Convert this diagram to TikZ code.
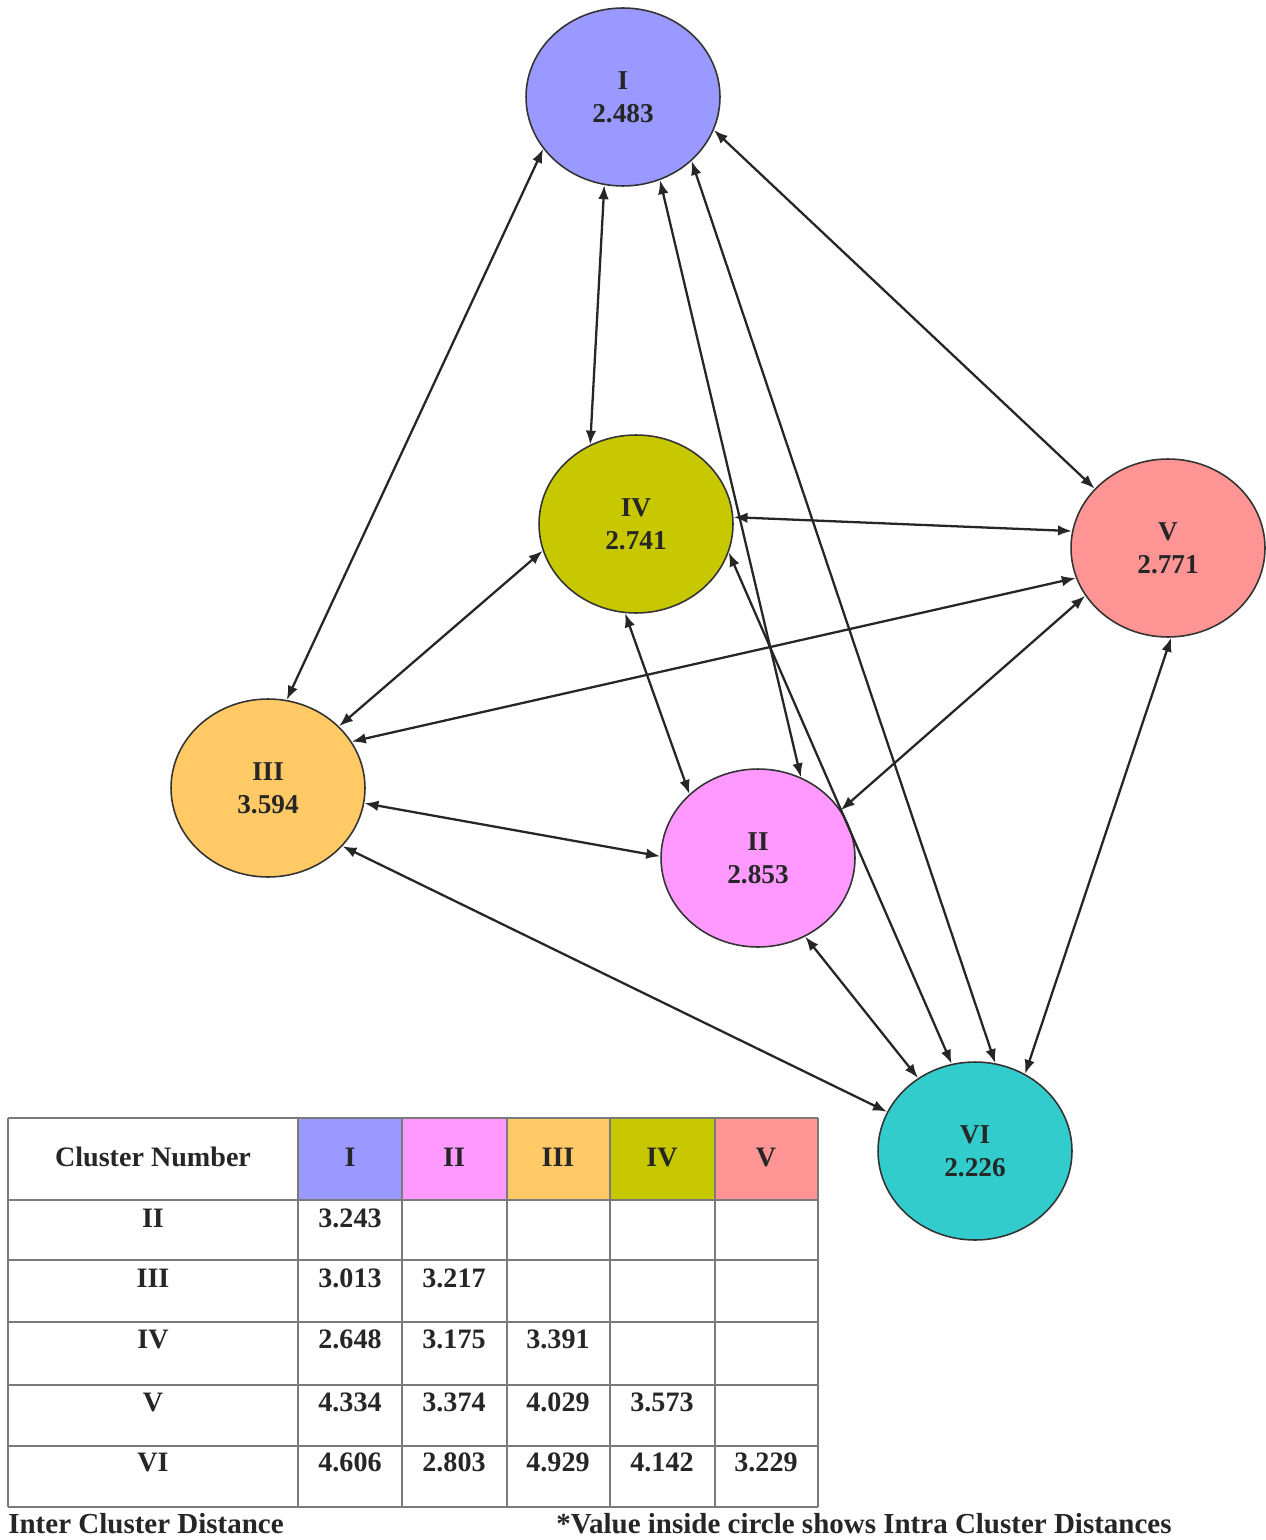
\documentclass[tikz,border=0pt]{standalone}
\usepackage{fontspec}
\setmainfont{Liberation Serif}
\usetikzlibrary{arrows.meta, shapes.geometric}

\definecolor{clI}{HTML}{9999FF}
\definecolor{clII}{HTML}{FF99FF}
\definecolor{clIII}{HTML}{FFC966}
\definecolor{clIV}{HTML}{C8C800}
\definecolor{clV}{HTML}{FF9494}
\definecolor{clVI}{HTML}{33CCCC}
\definecolor{gridgray}{HTML}{7A7A7A}

\begin{document}
\begin{tikzpicture}[x=0.02cm, y=-0.02cm,
    cluster/.style={ellipse, draw=black!80, line width=0.9pt, minimum width=3.88cm,
        minimum height=3.56cm, inner sep=0pt, align=center, text=black!85,
        font=\bfseries\fontsize{15.5}{19}\selectfont},
    link/.style={{Latex[length=8pt,width=6pt]}-{Latex[length=8pt,width=6pt]},
        line width=1.3pt, black!85},
    gridline/.style={gridgray, line width=1.2pt},
    cell/.style={inner sep=0pt, text=black!85, font=\bfseries\fontsize{16}{18}\selectfont},
    note/.style={inner sep=0pt, text=black!85, font=\bfseries\fontsize{16.5}{18}\selectfont}]

    \useasboundingbox (0,0) rectangle (1266,1540);

    % clusters
    \node[cluster, fill=clI]   (I)   at (623,97)   {I\\2.483};
    \node[cluster, fill=clIV]  (IV)  at (636,524)  {IV\\2.741};
    \node[cluster, fill=clV]   (V)   at (1168,548) {V\\2.771};
    \node[cluster, fill=clIII] (III) at (268,788)  {III\\3.594};
    \node[cluster, fill=clII]  (II)  at (758,858)  {II\\2.853};
    \node[cluster, fill=clVI]  (VI)  at (975,1151) {VI\\2.226};

    % inter cluster links
    \foreach \a/\b in {I.-147/III.78, I.-102/IV.120, I.-66/II.62, I.-43/VI.77,
                       I.-20/V.141, IV.-164/III.41, IV.4/V.170, IV.-97/II.137,
                       IV.-17/VI.105, V.-162/III.29, V.-150/II.30, V.-88/VI.57,
                       III.-9/II.179, III.-38/VI.156, II.-59/VI.128}
        \draw[link] (\a) -- (\b);

    % table
    \foreach \xa/\xb/\c in {298/402/clI, 402/507/clII, 507/610/clIII, 610/715/clIV, 715/818/clV}
        \fill[\c] (\xa,1118) rectangle (\xb,1200);

    \foreach \y in {1118,1200,1260,1322,1385,1446,1507}
        \draw[gridline] (8,\y) -- (818,\y);
    \foreach \x in {8,298,402,507,610,715,818}
        \draw[gridline] (\x,1118) -- (\x,1507);

    \node[cell] (hd) at (153,1157) {Cluster Number};
    \foreach \lab/\x in {I/350, II/454, III/558, IV/662, V/766}
        \node[cell] (hd\lab) at (\x,1157) {\lab};

    \foreach \lab/\y in {II/1218, III/1278, IV/1339, V/1402, VI/1462}
        \node[cell] (row\lab) at (153,\y) {\lab};

    \foreach \v/\x/\y [count=\k] in {3.243/350/1218,
            3.013/350/1278, 3.217/454/1278,
            2.648/350/1339, 3.175/454/1339, 3.391/558/1339,
            4.334/350/1402, 3.374/454/1402, 4.029/558/1402, 3.573/662/1402,
            4.606/350/1462, 2.803/454/1462, 4.929/558/1462, 4.142/662/1462, 3.229/766/1462}
        \node[cell] (val\k) at (\x,\y) {\v};

    % notes
    \node[note, anchor=base west] (inter) at (8,1533) {Inter Cluster Distance};
    \node[note, anchor=base west] (intra) at (556,1533) {*Value inside circle shows Intra Cluster Distances};
\end{tikzpicture}
\end{document}
